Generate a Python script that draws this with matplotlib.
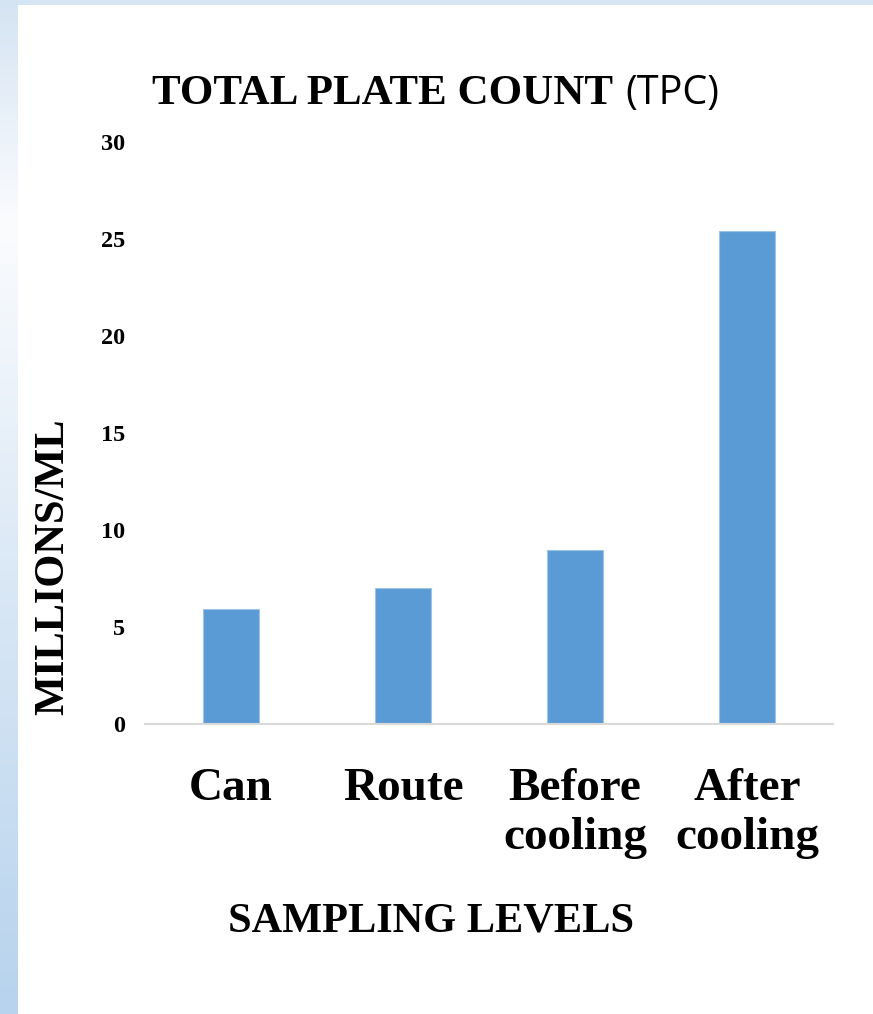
import numpy as np
import matplotlib
matplotlib.use("Agg")
import matplotlib.pyplot as plt
from matplotlib.colors import LinearSegmentedColormap

categories = ["Can", "Route", "Before\ncooling", "After\ncooling"]
tpc_millions = [5.93, 7.0, 8.97, 25.4]
y_ticks = [0, 5, 10, 15, 20, 25, 30]

serif = "Liberation Serif"

fig = plt.figure(figsize=(8.73, 10.14), dpi=100)
fig.patch.set_facecolor("white")

# slide-style frame: pale blue band on top, gradient strip on the left
top_band = fig.add_axes([18 / 873, 1 - 5 / 1014, 1 - 18 / 873, 5 / 1014])
top_band.set_axis_off()
top_band.add_patch(plt.Rectangle((0, 0), 1, 1, color="#d6e5f4", transform=top_band.transAxes))

strip = fig.add_axes([0, 0, 18 / 873, 1])
strip.set_axis_off()
cmap = LinearSegmentedColormap.from_list(
    "frame", [(0.0, "#d5e4f3"), (0.22, "#fbfcfe"), (0.55, "#dce9f6"), (1.0, "#b7d3ed")])
grad = np.linspace(0, 1, 256).reshape(-1, 1)
strip.imshow(grad, aspect="auto", cmap=cmap, extent=[0, 1, 1, 0])

ax = fig.add_axes([145 / 873, 1 - 724 / 1014, (833 - 145) / 873, (724 - 142) / 1014])
x = np.arange(len(categories))
ax.bar(x, tpc_millions, width=0.33, color="#5b9bd5", edgecolor="#9dc3e6", linewidth=0.8)
ax.set_xlim(-0.5, len(categories) - 0.5)
ax.set_ylim(0, 30)
ax.set_yticks(y_ticks)
ax.set_yticklabels([str(v) for v in y_ticks], fontfamily=serif, fontweight="bold", fontsize=17.5)
ax.set_xticks(x)
ax.set_xticklabels(categories, fontfamily=serif, fontweight="bold", fontsize=34, linespacing=1.2)
ax.tick_params(axis="y", length=0, pad=14)
ax.tick_params(axis="x", length=0, pad=32)
for side in ("left", "right", "top"):
    ax.spines[side].set_visible(False)
ax.spines["bottom"].set_color("#d9d9d9")
ax.spines["bottom"].set_linewidth(1.5)

fig.text(152 / 873, 1 - 94 / 1014, "TOTAL PLATE COUNT", fontfamily=serif, fontweight="bold",
         fontsize=31, ha="left", va="center")
fig.text(625 / 873, 1 - 94 / 1014, "(TPC)", fontfamily="Open Sans", fontsize=28.5,
         ha="left", va="center")

fig.text(53 / 873, 1 - 567 / 1014, "MILLIONS/ML", fontfamily=serif, fontweight="bold",
         fontsize=30.5, rotation=90, ha="center", va="center")
fig.text(431 / 873, 1 - 922 / 1014, "SAMPLING LEVELS", fontfamily=serif, fontweight="bold",
         fontsize=30.5, ha="center", va="center")

fig.savefig("out.png", dpi=100)
